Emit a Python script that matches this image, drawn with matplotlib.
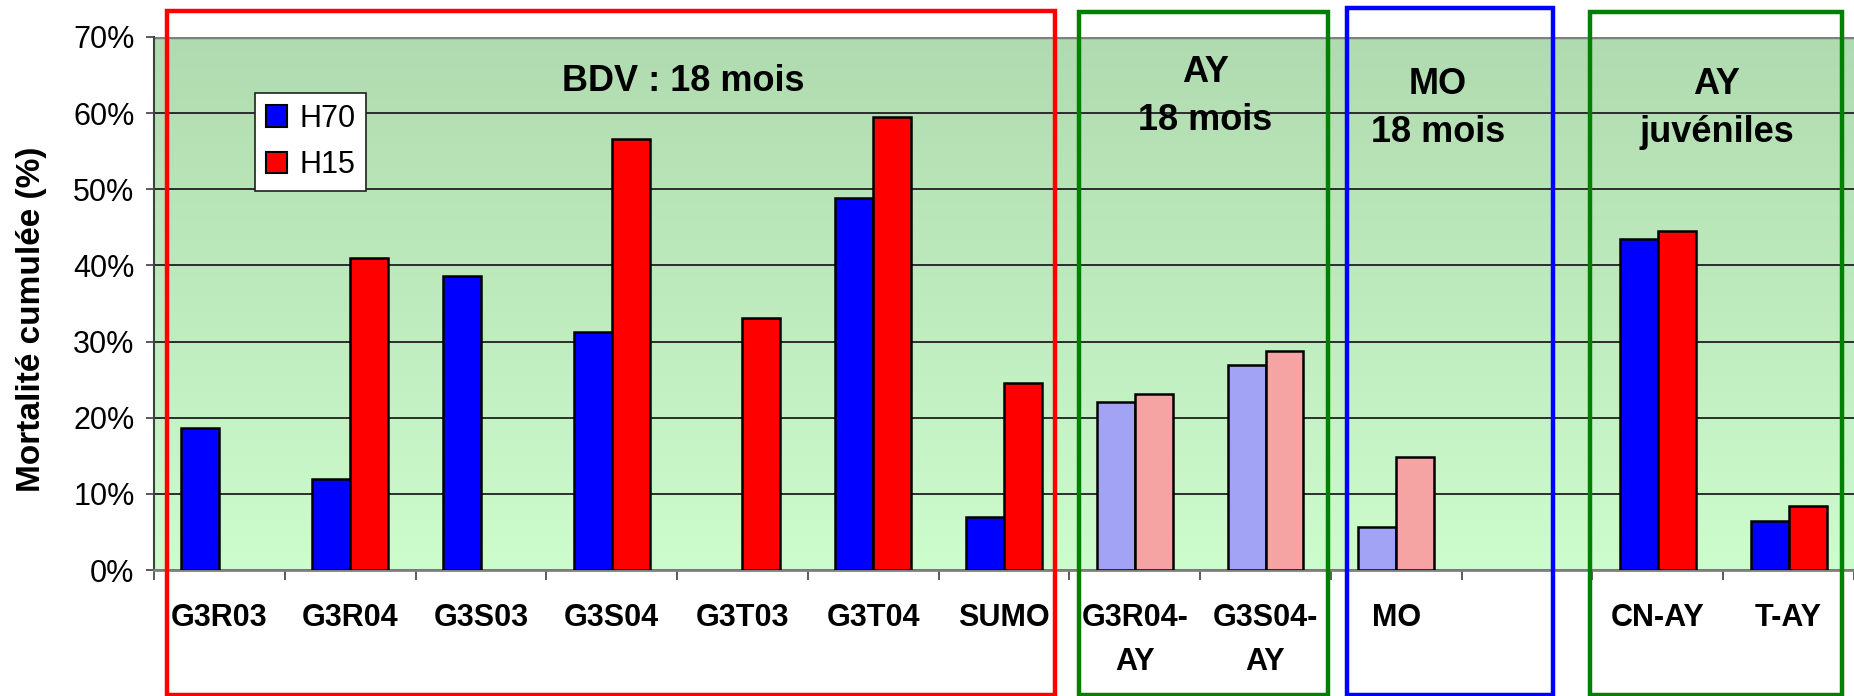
import matplotlib
matplotlib.use("Agg")
import matplotlib.pyplot as plt
import numpy as np
from matplotlib.patches import Rectangle, Patch
from matplotlib.ticker import FixedLocator, FuncFormatter

plt.rcParams["font.family"] = ["Liberation Sans", "DejaVu Sans"]

# mortalite cumulee (%) par lot
lots = ["G3R03", "G3R04", "G3S03", "G3S04", "G3T03", "G3T04", "SUMO",
        "G3R04-\nAY", "G3S04-\nAY", "MO", "", "CN-AY", "T-AY"]
h70 = [18.7, 12.0, 38.6, 31.3, np.nan, 48.9, 7.0, 22.0, 26.9, 5.6, np.nan, 43.5, 6.4]
h15 = [np.nan, 41.0, np.nan, 56.6, 33.1, 59.5, 24.6, 23.1, 28.7, 14.9, np.nan, 44.5, 8.4]
groupe = ["BDV"] * 7 + ["AY18"] * 2 + ["MO18"] * 2 + ["AYjuv"] * 2

# encadres des groupes : (x0, x1, y_haut, couleur, titre, x_titre, y_titre)
cadres = [
    (-0.40, 6.39, 73.4, "#ff0000", "BDV : 18 mois", 3.55, 64.1),
    (6.57, 8.48, 73.3, "#008000", "AY\n18 mois", 7.54, 62.2),
    (8.62, 10.20, 73.8, "#0000ff", "MO\n18 mois", 9.32, 60.6),
    (10.48, 12.41, 73.3, "#008000", "AY\njuvéniles", 11.45, 60.6),
]

fig = plt.figure(figsize=(18.54, 6.96), dpi=100)
ax = fig.add_axes([154 / 1854, 126 / 696, 1700 / 1854, 533 / 696])

x = np.arange(len(lots))
ax.set_xlim(-0.5, len(lots) - 0.5)
ax.set_ylim(0, 70)

# fond degrade vert
haut = np.array([176, 219, 176]) / 255
bas = np.array([205, 252, 205]) / 255
t = np.linspace(0, 1, 256)[:, None]
fond = (haut * (1 - t) + bas * t)[:, None, :]
ax.imshow(fond, extent=[-0.5, len(lots) - 0.5, 0, 70], aspect="auto",
          origin="upper", zorder=0)

ax.yaxis.grid(True, color="#202020", linewidth=1.3, zorder=1)
ax.set_axisbelow(True)

larg = 0.29
pale = np.array([g in ("AY18", "MO18") for g in groupe])
c70 = np.where(pale, "#a3a3f5", "#0000ff")
c15 = np.where(pale, "#f5a3a3", "#ff0000")
m70 = ~np.isnan(h70)
m15 = ~np.isnan(h15)
ax.bar(x[m70] - larg / 2, np.array(h70)[m70], larg, color=c70[m70],
       edgecolor="black", linewidth=1.8, zorder=3)
ax.bar(x[m15] + larg / 2, np.array(h15)[m15], larg, color=c15[m15],
       edgecolor="black", linewidth=1.8, zorder=3)

# axes et graduations
ax.yaxis.set_major_locator(FixedLocator(np.arange(0, 71, 10)))
ax.yaxis.set_major_formatter(FuncFormatter(lambda v, p: f"{v:.0f}%"))
ax.tick_params(axis="y", labelsize=22, length=6, width=1.2, pad=8, color="#404040")
ax.set_xticks(x)
ax.set_xticklabels(lots, fontweight="bold", fontsize=22, linespacing=1.6)
ax.tick_params(axis="x", which="major", length=0, pad=24)
ax.set_xticks(np.arange(-0.5, len(lots)), minor=True)
ax.tick_params(axis="x", which="minor", length=7, width=1.2, color="#404040")

for side in ("top", "right"):
    ax.spines[side].set_visible(False)
ax.spines["left"].set_color("#404040")
ax.spines["left"].set_linewidth(1.5)
ax.spines["bottom"].set_color("#808080")
ax.spines["bottom"].set_linewidth(2)
ax.axhline(70, color="#808080", linewidth=2.5, zorder=2)

ax.set_ylabel("Mortalité cumulée (%)", fontsize=24, fontweight="bold")
ax.yaxis.set_label_coords(-0.063, 0.471)

leg = ax.legend(handles=[Patch(facecolor="#0000ff", edgecolor="black", linewidth=1.5),
                         Patch(facecolor="#ff0000", edgecolor="black", linewidth=1.5)],
                labels=["H70", "H15"], loc="upper left",
                bbox_to_anchor=(0.0594, 0.895), borderaxespad=0, fontsize=22,
                fancybox=False, framealpha=1, edgecolor="#202020",
                handlelength=0.7, handleheight=0.7, handletextpad=0.4,
                labelspacing=0.55, borderpad=0.35)
leg.get_frame().set_linewidth(1.2)
leg.set_zorder(5)

for x0, x1, yh, coul, titre, xt, yt in cadres:
    ax.add_patch(Rectangle((x0, -16.4), x1 - x0, yh + 16.4, fill=False,
                           edgecolor=coul, linewidth=3.2, clip_on=False, zorder=6))
    ax.text(xt, yt, titre, ha="center", va="center", fontsize=26,
            fontweight="bold", linespacing=1.5, zorder=7)

fig.savefig("out.png", dpi=100, facecolor="white")
